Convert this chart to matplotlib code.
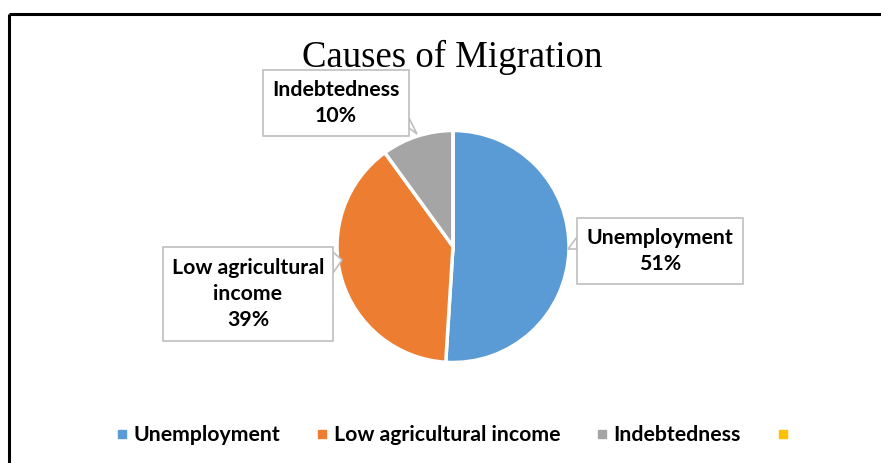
import matplotlib.pyplot as plt
from matplotlib.lines import Line2D
from matplotlib.patches import Rectangle, Polygon

# migration causes, share of respondents (%)
causes = ["Unemployment", "Low agricultural income", "Indebtedness", ""]
shares = [51, 39, 10, 0]
colors = ["#5B9BD5", "#ED7D31", "#A5A5A5", "#FFC000"]
box_text = ["Unemployment\n{}%", "Low agricultural\nincome\n{}%", "Indebtedness\n{}%"]

W, H = 881, 463
fig = plt.figure(figsize=(W / 100, H / 100), dpi=100)
ax = fig.add_axes([0, 0, 1, 1])
ax.set_xlim(0, W)
ax.set_ylim(0, H)
ax.set_aspect("equal")
ax.axis("off")

label_font = dict(family=["Lato", "DejaVu Sans"], fontweight="bold", fontsize=15.3)

# frame lines of the chart area (top and left only)
ax.plot([9, W], [H - 14, H - 14], color="black", lw=2.2, solid_capstyle="butt")
ax.plot([9, 9], [0, H - 14], color="black", lw=2.2, solid_capstyle="butt")

wedges, _ = ax.pie(shares, colors=colors, startangle=90, counterclock=False,
                   center=(453, H - 246.5), radius=116,
                   wedgeprops=dict(edgecolor="white", linewidth=2.5))
ax.set_xlim(0, W)
ax.set_ylim(0, H)

# callout boxes: (left, top, right, bottom) in pixels, then tail tip and base points
boxes = [
    ((577, 218, 743, 284), [(577, 237), (568, 249), (577, 249)]),
    ((163, 247, 333, 341), [(333, 252), (342, 260), (333, 273)]),
    ((263, 70, 409, 136), [(409, 118), (417, 134), (409, 128)]),
]
for i, ((l, t, r, b), tail) in enumerate(boxes):
    ax.add_patch(Polygon([(x, H - y) for x, y in tail], closed=True,
                         facecolor="white", edgecolor="#BFBFBF", lw=1.2, zorder=3))
    ax.add_patch(Rectangle((l, H - b), r - l, b - t, facecolor="white",
                           edgecolor="#BFBFBF", lw=1.2, zorder=4))
    ax.text((l + r) / 2, H - (t + b) / 2, box_text[i].format(shares[i]),
            ha="center", va="center", linespacing=1.4, zorder=5, **label_font)

ax.text(452, H - 57, "Causes of Migration", ha="center", va="center",
        family="Liberation Serif", fontsize=26.5)

handles = [Line2D([], [], marker="s", ls="none", markersize=6,
                  markerfacecolor=c, markeredgecolor=c) for c in colors]
fig.legend(handles, causes, loc="center", bbox_to_anchor=(455 / W, 1 - 435 / H),
           ncol=4, frameon=False, handlelength=0.6, handletextpad=0.26,
           columnspacing=1.65, prop=dict(family=["Lato", "DejaVu Sans"],
                                         weight="bold", size=15.3))

fig.savefig("out.png", dpi=100)
